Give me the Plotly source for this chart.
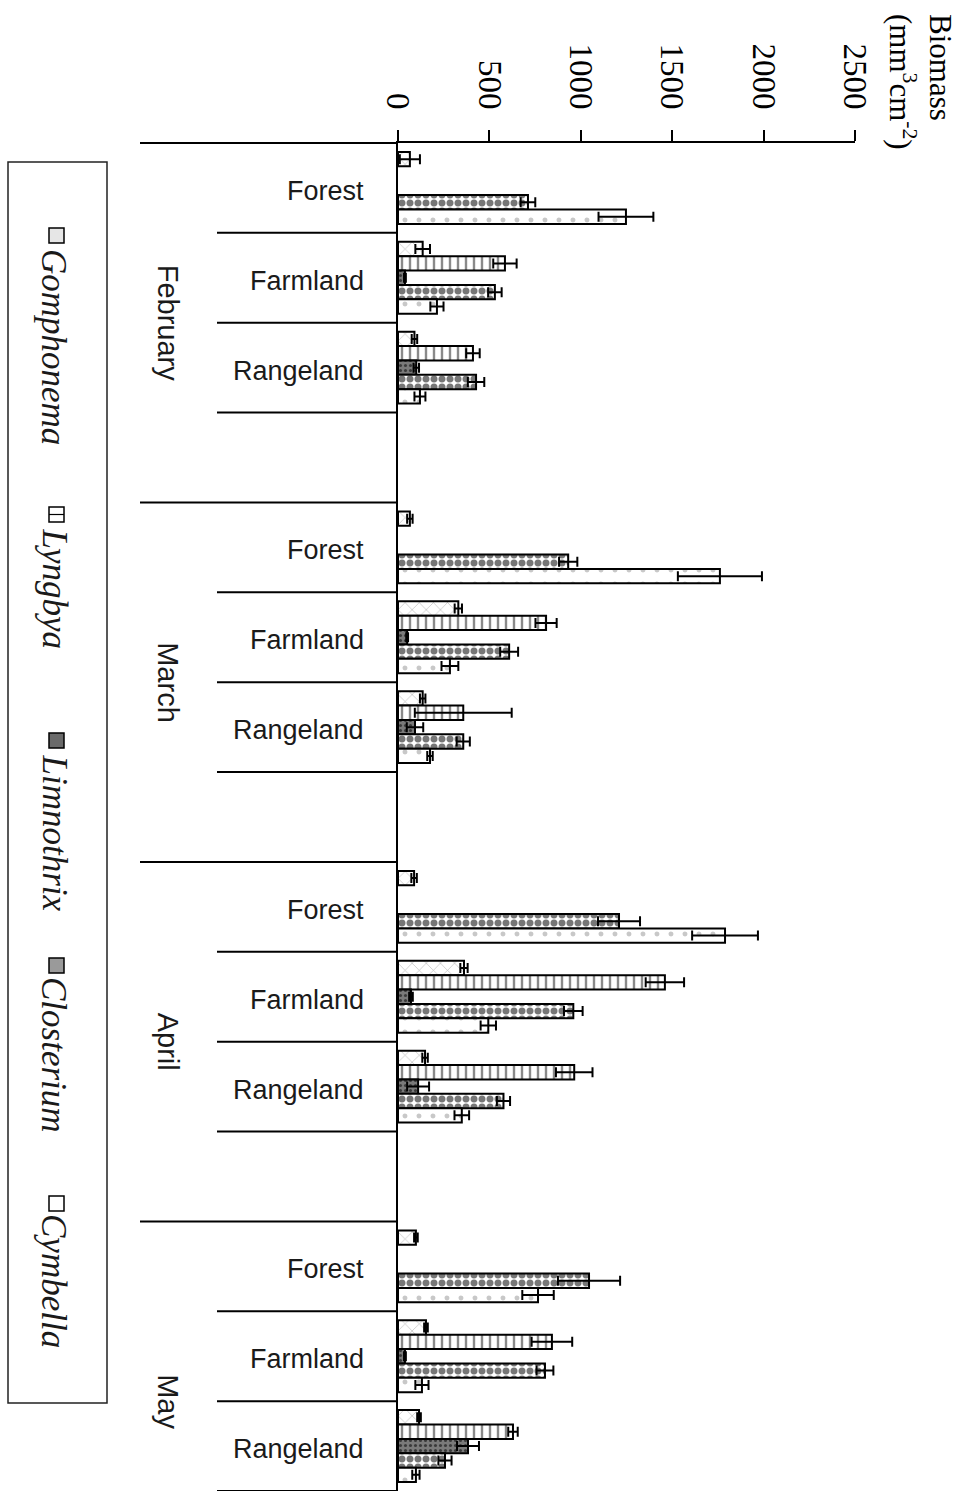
import plotly.graph_objects as go

# ---------------- data ----------------
months = ["February", "March", "April", "May"]
sites = ["Forest", "Farmland", "Rangeland"]
species = ["Gomphonema", "Lyngbya", "Limnothrix", "Closterium", "Cymbella"]

# values ordered month-major (Feb Forest, Feb Farmland, Feb Rangeland, Mar Forest, ...)
gomphonema = [65, 135, 90, 65, 330, 135, 88, 361, 148, 98, 153, 115]
gomphonema_err = [55, 40, 15, 15, 20, 15, 15, 20, 15, 10, 10, 10]
lyngbya = [None, 585, 410, None, 810, 357, None, 1460, 964, None, 842, 629]
lyngbya_err = [0, 64, 37, 0, 58, 265, 0, 105, 100, 0, 111, 26]
limnothrix = [None, 38, 100, None, 50, 93, None, 71, 110, None, 38, 383]
limnothrix_err = [0, 5, 15, 0, 5, 45, 0, 10, 60, 0, 5, 60]
closterium = [711, 530, 427, 931, 608, 357, 1209, 959, 577, 1045, 804, 257]
closterium_err = [40, 37, 45, 50, 49, 36, 115, 51, 36, 170, 46, 36]
cymbella = [1247, 213, 120, 1761, 284, 175, 1789, 494, 349, 766, 131, 98]
cymbella_err = [150, 36, 30, 230, 46, 15, 180, 42, 40, 86, 36, 20]

x_ticks = [0, 500, 1000, 1500, 2000, 2500]

series_values = [gomphonema, lyngbya, limnothrix, closterium, cymbella]
series_errors = [gomphonema_err, lyngbya_err, limnothrix_err, closterium_err, cymbella_err]

# ---------------- styles ----------------
W_FIG, H_FIG = 963, 1491
L, T = 398, 143
R_EDGE = 855
PW = R_EDGE - L
PH = H_FIG - T
SLOTS_PER_MONTH = 4
N_SLOTS = 15  # visible slots (May's trailing gap is cropped)

patterns = [
    dict(shape="x", fgcolor="#b5b5b5", bgcolor="white", size=10, solidity=0.12, fillmode="replace"),
    dict(shape="|", fgcolor="#8a8a8a", bgcolor="white", size=8, solidity=0.3, fillmode="replace"),
    dict(shape=".", fgcolor="#3a3a3a", bgcolor="#7a7a7a", size=5, solidity=0.3, fillmode="replace"),
    dict(shape=".", fgcolor="#777777", bgcolor="white", size=8, solidity=0.6, fillmode="replace"),
    dict(shape=".", fgcolor="#c8c8c8", bgcolor="white", size=14, solidity=0.1, fillmode="replace"),
]


def px2x(px):
    return (px - L) / PW


def py2y(py):
    return 1 - (py - T) / PH


def idx2y(v):
    # y-axis range is reversed [N_SLOTS-0.5, -0.5]
    return (N_SLOTS - 0.5 - v) / N_SLOTS


positions = [m * SLOTS_PER_MONTH + s for m in range(len(months)) for s in range(len(sites))]

fig = go.Figure()
for name, vals, errs, pat in zip(species, series_values, series_errors, patterns):
    fig.add_trace(go.Bar(
        name=name,
        orientation="h",
        x=vals,
        y=positions,
        marker=dict(color="white", pattern=pat, line=dict(color="black", width=2)),
        error_x=dict(type="data", array=errs, symmetric=True, color="black",
                     thickness=2, width=5),
    ))

shapes = []
annotations = []

# category separators (month boundaries long, site boundaries short)
for m in range(len(months)):
    base = m * SLOTS_PER_MONTH
    shapes.append(dict(type="line", xref="paper", yref="paper",
                       x0=px2x(140), x1=0, y0=idx2y(base - 0.5), y1=idx2y(base - 0.5),
                       line=dict(color="black", width=2)))
    for s in range(SLOTS_PER_MONTH - 1):
        yy = idx2y(base + s + 0.5)
        if base + s + 0.5 > N_SLOTS - 0.5:
            continue
        shapes.append(dict(type="line", xref="paper", yref="paper",
                           x0=px2x(217), x1=0, y0=yy, y1=yy,
                           line=dict(color="black", width=2)))
    # month label
    annotations.append(dict(text=months[m], xref="paper", yref="paper",
                            x=px2x(168), y=idx2y(base + 1.5), textangle=90,
                            showarrow=False, xanchor="center", yanchor="middle",
                            font=dict(family="Liberation Sans", size=29, color="#1a1a1a")))
    for s, site in enumerate(sites):
        annotations.append(dict(text=site, xref="paper", yref="paper",
                                x=px2x(366), y=idx2y(base + s) - 3 / PH, showarrow=False,
                                xanchor="right", yanchor="middle",
                                font=dict(family="Liberation Sans", size=27, color="#1a1a1a")))

# axis title (rotated)
annotations.append(dict(text="Biomass<br>(mm<sup>3</sup>cm<sup>-2</sup>)", xref="paper", yref="paper",
                        x=px2x(920), y=py2y(12), textangle=90, showarrow=False,
                        xanchor="center", yanchor="top", align="left",
                        font=dict(family="Liberation Serif", size=31, color="black")))

# legend (rotated, drawn manually)
shapes.append(dict(type="rect", xref="paper", yref="paper",
                   x0=px2x(8), x1=px2x(107), y0=py2y(162), y1=py2y(1403),
                   line=dict(color="#222", width=1.5), fillcolor="rgba(0,0,0,0)"))
swatch_tops = [228, 507, 733, 958, 1196]
text_tops = [247, 526, 752, 975, 1212]
swatch_fills = ["#e6e6e6", "white", "#6a6a6a", "#9a9a9a", "white"]
for name, st, tt, fc in zip(species, swatch_tops, text_tops, swatch_fills):
    shapes.append(dict(type="rect", xref="paper", yref="paper",
                       x0=px2x(49), x1=px2x(64), y0=py2y(st), y1=py2y(st + 15),
                       line=dict(color="black", width=1.5), fillcolor=fc))
    if name == "Lyngbya":
        shapes.append(dict(type="line", xref="paper", yref="paper",
                           x0=px2x(49), x1=px2x(64), y0=py2y(st + 7.5), y1=py2y(st + 7.5),
                           line=dict(color="black", width=1.2)))
    annotations.append(dict(text="<i>" + name + "</i>", xref="paper", yref="paper",
                            x=px2x(54), y=py2y(tt), textangle=90, showarrow=False,
                            xanchor="center", yanchor="top",
                            font=dict(family="Liberation Serif", size=35, color="#1a1a1a")))

fig.update_layout(
    width=W_FIG, height=H_FIG,
    margin=dict(l=L, r=W_FIG - R_EDGE, t=T, b=0, pad=0),
    paper_bgcolor="white", plot_bgcolor="white",
    barmode="group", bargap=0.2, bargroupgap=0,
    showlegend=False,
    shapes=shapes, annotations=annotations,
    xaxis=dict(side="top", range=[0, 2500], tickvals=x_ticks, ticktext=[str(v) for v in x_ticks],
               tickangle=90, ticks="outside", ticklen=11, tickwidth=1.5, tickcolor="black",
               ticklabelstandoff=9,
               showline=True, linewidth=2, linecolor="black", showgrid=False, zeroline=False,
               tickfont=dict(family="Liberation Serif", size=33, color="black")),
    yaxis=dict(range=[N_SLOTS - 0.5, -0.5], showticklabels=False, ticks="", showgrid=False,
               zeroline=False, showline=True, linewidth=2, linecolor="black"),
)

fig.write_html("out.html", config={"displayModeBar": False},
               post_script="document.body.style.margin='0';document.body.style.overflow='hidden';")
